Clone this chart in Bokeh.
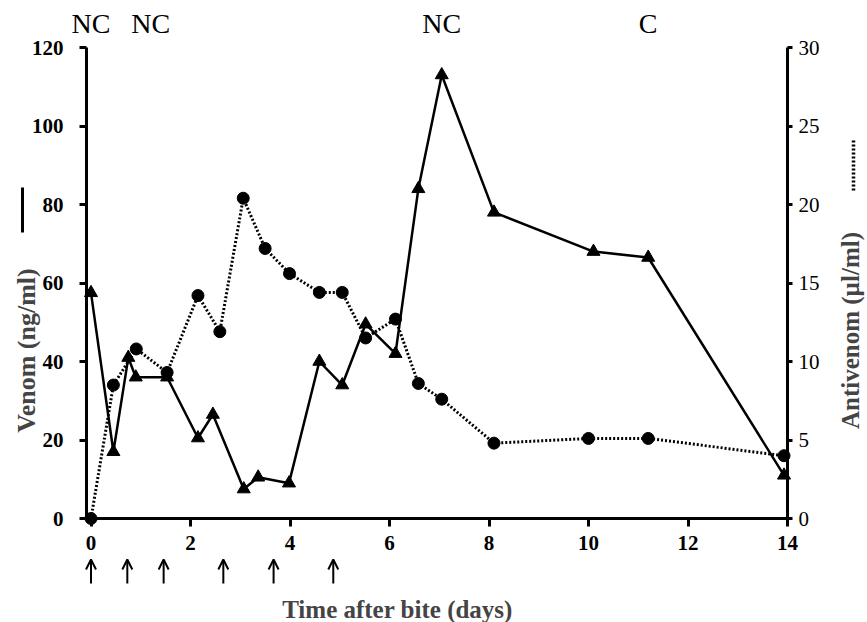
import math
from bokeh.plotting import figure
from bokeh.models import (LinearAxis, Range1d, FixedTicker, ColumnDataSource,
                          Label, Arrow, OpenHead)
from bokeh.core.properties import value
from bokeh.embed import file_html
from bokeh.resources import INLINE

# ---------------- data ----------------
days_venom = [0, 0.45, 0.75, 0.9, 1.53, 2.15, 2.45, 3.07, 3.36, 3.98, 4.59,
              5.05, 5.52, 6.12, 6.58, 7.05, 8.1, 10.1, 11.2, 13.93]
venom_ng_ml = [57.5, 17, 41, 36, 36, 20.5, 26.5, 7.5, 10.5, 9, 40,
               34, 49.5, 42, 84, 113, 78, 68, 66.5, 11]

days_antivenom = [0, 0.45, 0.91, 1.53, 2.15, 2.59, 3.06, 3.5, 3.99, 4.59,
                  5.05, 5.52, 6.12, 6.58, 7.05, 8.1, 10.0, 11.2, 13.93]
antivenom_ul_ml = [0, 8.5, 10.8, 9.3, 14.2, 11.9, 20.4, 17.2, 15.6, 14.4,
                   14.4, 11.5, 12.7, 8.6, 7.6, 4.8, 5.1, 5.1, 4.0]

dose_days = [0, 0.73, 1.46, 2.66, 3.67, 4.87]
status_days = [0, 1.2, 7.05, 11.2]
status_labels = ["NC", "NC", "NC", "C"]

x_ticks = [0, 2, 4, 6, 8, 10, 12, 14]
venom_ticks = [0, 20, 40, 60, 80, 100, 120]
antivenom_ticks = [0, 5, 10, 15, 20, 25, 30]

# ---------------- layout ----------------
FONT = "Liberation Serif"
PX_DAY = 49.75
PX_UNIT = 3.925
W, H = 867, 622
FRAME_L, FRAME_T = 0, 0            # picture coords of frame (frame = whole canvas)
FRAME_W, FRAME_H = W, H
X0_PAGE, Y0_PAGE = 90.5, 518       # picture position of (0, 0)
x0 = -(X0_PAGE - FRAME_L) / PX_DAY
x1 = x0 + FRAME_W / PX_DAY
y0 = -(FRAME_T + FRAME_H - Y0_PAGE) / PX_UNIT
y1 = y0 + FRAME_H / PX_UNIT


def dx(px):
    return x0 + (px - FRAME_L) / PX_DAY


def dy(py):
    return y0 + (FRAME_T + FRAME_H - py) / PX_UNIT


p = figure(width=W, height=H, x_range=Range1d(x0, x1), y_range=Range1d(y0, y1),
           x_axis_type=None, y_axis_type=None, toolbar_location=None,
           output_backend="svg", title=None,
           min_border_left=0, min_border_top=0,
           min_border_right=0, min_border_bottom=0)
p.outline_line_color = None
p.background_fill_color = "white"
p.border_fill_color = "white"
p.extra_y_ranges = {"av": Range1d(y0 / 4, y1 / 4)}


def style(ax, bold, tick_out, standoff):
    ax.axis_line_width = 3
    ax.axis_line_color = "black"
    ax.major_tick_line_width = 3
    ax.major_tick_line_color = "black"
    ax.major_tick_in = 0
    ax.major_tick_out = tick_out
    ax.minor_tick_line_color = None
    ax.major_label_text_font = FONT
    ax.major_label_text_font_size = "21px"
    ax.major_label_text_font_style = "bold" if bold else "normal"
    ax.major_label_text_color = "black"
    ax.major_label_standoff = standoff


xa = LinearAxis(fixed_location=0, bounds=(-0.09, 14),
                ticker=FixedTicker(ticks=x_ticks))
style(xa, True, 8, 9)
p.add_layout(xa, "below")

ya = LinearAxis(fixed_location=-0.09, bounds=(0, 120),
                ticker=FixedTicker(ticks=venom_ticks))
style(ya, True, 7, 16)
p.add_layout(ya, "left")

ra = LinearAxis(y_range_name="av", fixed_location=14, bounds=(0, 30),
                ticker=FixedTicker(ticks=antivenom_ticks))
style(ra, False, 5, 6)
p.add_layout(ra, "right")

# ---------------- series ----------------
p.line(days_antivenom, antivenom_ul_ml, y_range_name="av", line_width=3,
       line_dash="2 2", line_color="black")
p.scatter(days_antivenom, antivenom_ul_ml, y_range_name="av", marker="circle",
          size=12, color="black")

p.line(days_venom, venom_ng_ml, line_width=2.5, line_color="black")
p.scatter(days_venom, venom_ng_ml, marker="triangle", size=13, color="black")

# status labels
p.text(x=status_days, y=dy(23), text=status_labels, text_font=value(FONT),
       text_font_size="28px", text_align="center", text_baseline="middle",
       text_color="black")

# dose arrows
dose_src = ColumnDataSource(dict(x=dose_days))
p.add_layout(Arrow(end=OpenHead(size=10, line_width=2, line_color="black"),
                   x_start="x", y_start=dy(583), x_end="x", y_end=dy(559),
                   source=dose_src, line_width=2, line_color="black"))

# axis titles
p.add_layout(Label(x=dx(26), y=dy(350), text="Venom (ng/ml)", angle=math.pi / 2,
                   text_font=FONT, text_font_size="26px", text_font_style="bold",
                   text_align="center", text_baseline="middle"))
p.add_layout(Label(x=dx(850), y=dy(330), text="Antivenom (µl/ml)",
                   angle=math.pi / 2, text_font=FONT, text_font_size="25px",
                   text_font_style="bold", text_align="center",
                   text_baseline="middle"))
p.add_layout(Label(x=dx(397), y=dy(609), text="Time after bite (days)",
                   text_font=FONT, text_font_size="25px", text_font_style="bold",
                   text_align="center", text_baseline="alphabetic"))

# line-style keys beside the titles
p.add_layout(Arrow(start=None, end=None, x_start=dx(22), y_start=dy(187),
                   x_end=dx(22), y_end=dy(232), line_width=3, line_color="black"))
p.add_layout(Arrow(start=None, end=None, x_start=dx(853), y_start=dy(140),
                   x_end=dx(853), y_end=dy(192), line_width=3.5,
                   line_dash="2 2", line_color="black"))

open("out.html", "w").write(file_html(p, INLINE))
